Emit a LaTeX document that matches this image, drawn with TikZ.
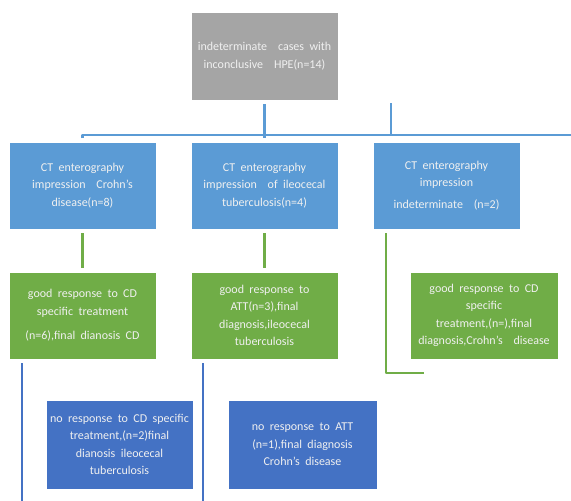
\documentclass[tikz,border=0pt]{standalone}
\usepackage{fontspec}
\setmainfont{Carlito}[WordSpace=2]
\definecolor{grisbox}{HTML}{A5A5A5}
\definecolor{bleubox}{HTML}{5B9BD5}
\definecolor{vertbox}{HTML}{70AD47}
\definecolor{foncebox}{HTML}{4472C4}
\begin{document}
\begin{tikzpicture}[x=1pt, y=-1pt, line join=round,
        boite/.style={draw=white, line width=0.6pt, text=white!94!black, align=center, inner sep=1pt, outer sep=4pt,
            minimum width=147pt, minimum height=87pt, font=\fontsize{12}{17.5}\selectfont},
        lienbleu/.style={draw=bleubox, line width=2.4pt},
        lienvert/.style={draw=vertbox, line width=2.4pt},
        lienfonce/.style={draw=foncebox, line width=2.4pt}]
        \useasboundingbox (0,0) rectangle (571,501);

        \node[boite, fill=grisbox, minimum height=88pt] (hpe) at (264.5,56)
            {indeterminate \ cases with\\inconclusive \ HPE(n=14)};

        \node[boite, fill=bleubox] (ctcd) at (82.5,185.5)
            {CT enterography\\impression \ Crohn's\\disease(n=8)};
        \node[boite, fill=bleubox] (ctitb) at (264.5,185.5)
            {CT enterography\\impression \ of ileocecal\\tuberculosis(n=4)};
        \node[boite, fill=bleubox] (ctind) at (446.5,185.5)
            {CT enterography\\impression\\[4pt]indeterminate \ (n=2)};

        \node[boite, fill=vertbox] (goodcd) at (82.5,315.5)
            {good response to CD\\specific treatment\\[7pt](n=6),final dianosis CD};
        \node[boite, fill=vertbox] (goodatt) at (264.5,315.5)
            {good response to\\ATT(n=3),final\\diagnosis,ileocecal\\tuberculosis};
        \node[boite, fill=vertbox, minimum width=148pt] (goodind) at (484,315.5)
            {good response to CD\\specific\\treatment,(n=),final\\diagnosis,Crohn's \ disease};

        \node[boite, fill=foncebox, minimum height=89pt] (nocd) at (119.5,444.5)
            {no response to CD specific\\treatment,(n=2)final\\dianosis ileocecal\\tuberculosis};
        \node[boite, fill=foncebox, minimum width=149pt, minimum height=89pt] (noatt) at (302.5,444.5)
            {no response to ATT\\(n=1),final diagnosis\\Crohn's disease};

        \coordinate (busend) at (571,135);
        \coordinate (stubtop) at (391,103);
        \coordinate (elbow) at (386,373);
        \coordinate (elbowend) at (424,373);
        \coordinate (cdfoot) at (22,501);
        \coordinate (attfoot) at (203,501);

        \draw[lienbleu] (ctcd.north) |- (busend);
        \draw[lienbleu] (hpe.south) -- (ctitb.north);
        \draw[lienbleu] (stubtop) -- (stubtop |- busend);

        \draw[lienvert] (ctcd.south) -- (goodcd.north);
        \draw[lienvert] (ctitb.south) -- (goodatt.north);
        \draw[lienvert] (ctind.south -| elbow) -- (elbow) -- (elbowend);

        \draw[lienfonce] (goodcd.south -| cdfoot) -- (cdfoot);
        \draw[lienfonce] (goodatt.south -| attfoot) -- (attfoot);
    \end{tikzpicture}
\end{document}
